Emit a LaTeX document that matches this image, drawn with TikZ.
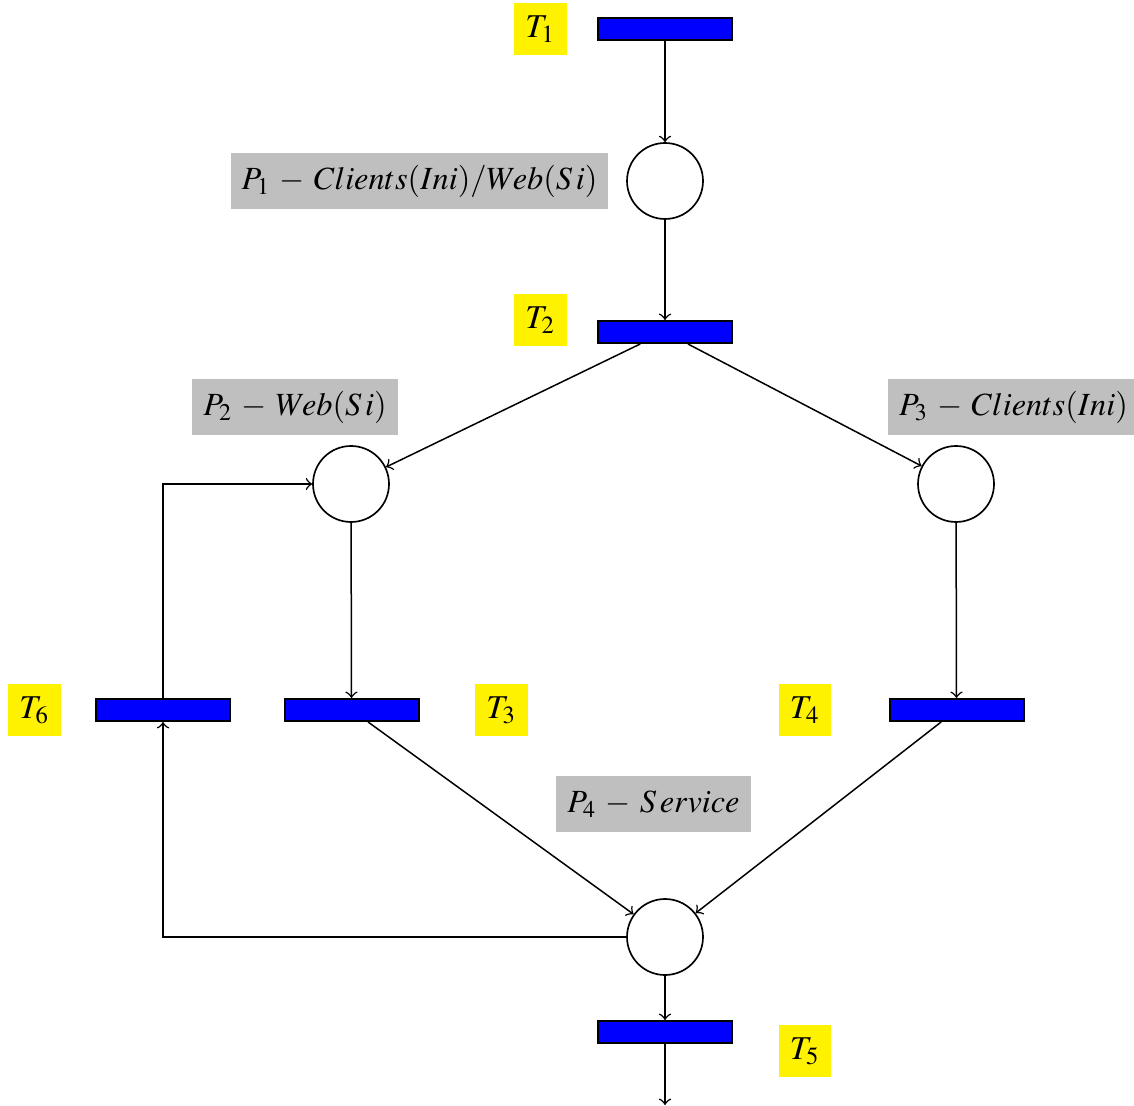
\documentclass[tikz,border=0pt]{standalone}
\usepackage{mathptmx}
\begin{document}
\begin{tikzpicture}[x=0.3pt,y=-0.3pt,
  trans/.style={draw=black,fill=blue,rectangle,minimum width=40.2pt,minimum height=6.6pt,inner sep=0pt,line width=0.6pt},
  place/.style={draw=black,fill=white,circle,minimum size=22.8pt,inner sep=0pt,line width=0.5pt},
  tlabel/.style={fill=yellow,inner sep=3.3pt,text height=7pt,text depth=2pt},
  plabel/.style={fill=black!25,inner sep=3.3pt,text height=7.5pt,text depth=2.5pt,
    font=\fontsize{9.7pt}{11pt}\selectfont,
    execute at begin node={\medmuskip=5mu plus 2mu minus 4mu}},
  arc/.style={->,line width=0.45pt}]
\useasboundingbox (0,0) rectangle (1134,1106);

% transitions
\node[trans] (t1) at (665,29) {};
\node[trans] (t2) at (665,332) {};
\node[trans] (t6) at (163,710) {};
\node[trans] (t3) at (351.5,710) {};
\node[trans] (t4) at (956.5,710) {};
\node[trans] (t5) at (665,1032) {};

% places
\node[place] (p1) at (665,181) {};
\node[place] (p2) at (351,484) {};
\node[place] (p3) at (956,484) {};
\node[place] (p4) at (665,937) {};

% transition labels
\node[tlabel] (lt1) at (540.5,29) {$T_1$};
\node[tlabel] (lt2) at (540.5,320) {$T_2$};
\node[tlabel] (lt6) at (34.5,710) {$T_6$};
\node[tlabel] (lt3) at (501.5,710) {$T_3$};
\node[tlabel] (lt4) at (805,710) {$T_4$};
\node[tlabel] (lt5) at (805,1051) {$T_5$};

% place labels
\node[plabel] (lp1) at (419.5,181) {$P_1 - Clients(Ini)/Web(S\,i)$};
\node[plabel] (lp2) at (295,407) {$P_2 - Web(S\,i)$};
\node[plabel] (lp3) at (1013.5,407) {$P_3 - Clients(Ini)$};
\node[plabel] (lp4) at (653.5,804) {$P_4 - S\,ervice$};

% arcs
\coordinate (sink) at (665,1105);
\draw[arc] (t1) -- (p1);
\draw[arc] (p1) -- (t2);
\draw[arc] (t2) -- (p2);
\draw[arc] (t2) -- (p3);
\draw[arc] (p2) -- (t3);
\draw[arc] (p3) -- (t4);
\draw[arc] (t3) -- (p4);
\draw[arc] (t4) -- (p4);
\draw[arc] (p4) -- (t5);
\draw[arc] (t5) -- (sink);
\draw[arc] (p4.west) -| (t6.south);
\draw[arc] (t6.north) |- (p2.west);
\end{tikzpicture}
\end{document}
